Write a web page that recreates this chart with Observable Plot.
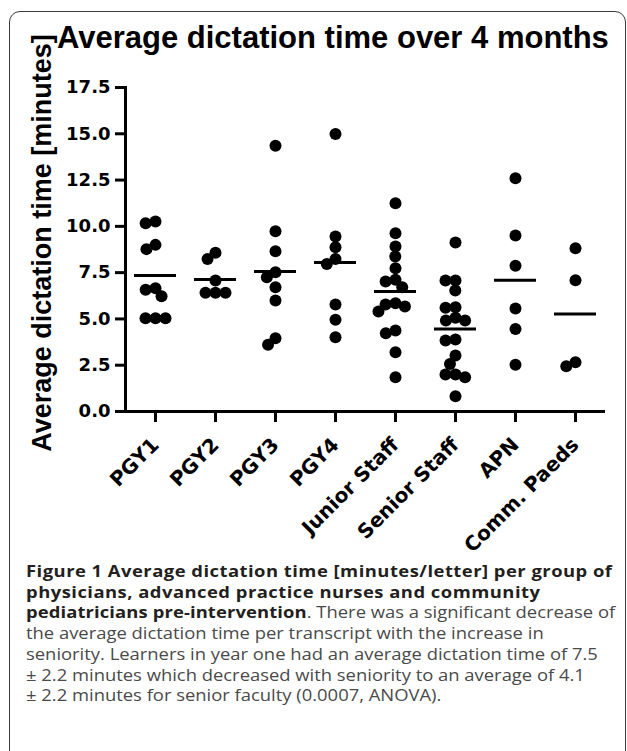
<!DOCTYPE html>
<html>
<head>
<meta charset="utf-8">
<script src="https://cdn.jsdelivr.net/npm/d3@7"></script>
<script src="https://cdn.jsdelivr.net/npm/@observablehq/plot@0.6"></script>
<style>
  html, body { margin: 0; padding: 0; background: #fff; }
  #page { position: relative; width: 627px; height: 751px; overflow: hidden; background: #fff; }
  #box { position: absolute; left: 9px; top: 11px; width: 617px; height: 780px; border: 1.5px solid #3a3a3a; border-radius: 11px; box-sizing: border-box; }
  #title { position: absolute; left: 57px; top: 22px; font: bold 31px "Liberation Sans", Arial, sans-serif; line-height: 31px; white-space: nowrap; color: #000; }
  #ylabel { position: absolute; left: 41.7px; top: 242.5px; transform: translate(-50%, -50%) rotate(-90deg); font: bold 27px "Liberation Sans", Arial, sans-serif; line-height: 27px; white-space: nowrap; color: #000; }
  #chart { position: absolute; left: 0; top: 0; }
  #caption { position: absolute; left: 26px; top: 561px; font: 16px "Open Sans", sans-serif; line-height: 20.7px; white-space: nowrap; color: #4a4a4a; transform: scaleX(1.15); transform-origin: 0 0; }
  #caption b { color: #231f20; font-weight: bold; letter-spacing: 0.42px; }
  #caption b.tight { letter-spacing: 0.1px; }
</style>
</head>
<body>
<div id="page">
  <div id="box"></div>
  <div id="title">Average dictation time over 4 months</div>
  <div id="ylabel">Average dictation time [minutes]</div>
  <div id="chart"></div>
  <div id="caption"><b>Figure 1 Average dictation time [minutes/letter] per group of</b><br><b>physicians, advanced practice nurses and community</b><br><b class="tight">pediatricians pre-intervention</b>. There was a significant decrease of<br>the average dictation time per transcript with the increase in<br>seniority. Learners in year one had an average dictation time of 7.5<br>± 2.2 minutes which decreased with seniority to an average of 4.1<br>± 2.2 minutes for senior faculty (0.0007, ANOVA).</div>
</div>
<script>
// Categories
const groups = ["PGY1", "PGY2", "PGY3", "PGY4", "Junior Staff", "Senior Staff", "APN", "Comm. Paeds"];

// Individual values (minutes/letter) per group
const pgy1 = [10.26, 10.17, 9.0, 8.77, 6.66, 6.57, 6.23, 5.04, 5.04, 5.04];
const pgy2 = [8.57, 8.24, 7.07, 6.41, 6.41, 6.41];
const pgy3 = [14.36, 9.74, 8.66, 7.52, 7.25, 6.71, 5.99, 3.96, 3.6];
const pgy4 = [14.99, 9.45, 8.87, 8.24, 7.97, 5.78, 4.95, 4.01];
const juniorStaff = [11.25, 9.63, 8.91, 8.37, 7.74, 7.11, 7.02, 6.71, 5.85, 5.78, 5.67, 5.40, 4.37, 4.23, 3.20, 1.85];
const seniorStaff = [9.13, 7.07, 7.07, 6.53, 5.63, 5.60, 5.06, 4.91, 4.91, 3.89, 3.83, 3.02, 2.57, 2.0, 2.0, 1.85, 0.83];
const apn = [12.6, 9.5, 7.87, 5.56, 4.45, 2.52];
const commPaeds = [8.82, 7.09, 2.66, 2.45];

// Group means (horizontal bars)
const means = [7.34, 7.13, 7.56, 8.05, 6.48, 4.46, 7.09, 5.27];

// Y tick values
const yTicks = [0, 2.5, 5, 7.5, 10, 12.5, 15, 17.5];

const series = [pgy1, pgy2, pgy3, pgy4, juniorStaff, seniorStaff, apn, commPaeds];
const rows = groups.flatMap((g, i) => series[i].map(v => ({group: g, value: v})));
const meanRows = groups.map((g, i) => ({group: g, mean: means[i]}));

const chart = Plot.plot({
  width: 627,
  height: 560,
  marginTop: 87,
  marginBottom: 149,
  marginLeft: 122,
  marginRight: 20,
  fx: {domain: groups, padding: 0, label: null},
  y: {domain: [0, 17.5], label: null},
  style: {background: "transparent", color: "#000", overflow: "visible"},
  marks: [
    Plot.axisY({ticks: yTicks, tickFormat: d3.format(".1f"), tickSize: 10, tickPadding: 5, strokeWidth: 3,
      fontSize: 18, fontWeight: "bold", fontFamily: "DejaVu Sans", label: null}),
    Plot.axisFx({anchor: "bottom", tickSize: 11, tickPadding: 19, tickRotate: -45, strokeWidth: 3,
      fontSize: 20, fontWeight: "bold", fontFamily: "DejaVu Sans", label: null}),
    Plot.frame({anchor: "left", strokeWidth: 3, facetAnchor: "left"}),
    Plot.ruleY([0], {strokeWidth: 3}),
    Plot.ruleY(meanRows, {fx: "group", y: "mean", strokeWidth: 3, insetLeft: 9, insetRight: 9}),
    Plot.dot(rows, Plot.dodgeX({anchor: "middle", padding: -2}, {fx: "group", y: "value", r: 6, fill: "#000"}))
  ]
});
document.getElementById("chart").appendChild(chart);
</script>
</body>
</html>
